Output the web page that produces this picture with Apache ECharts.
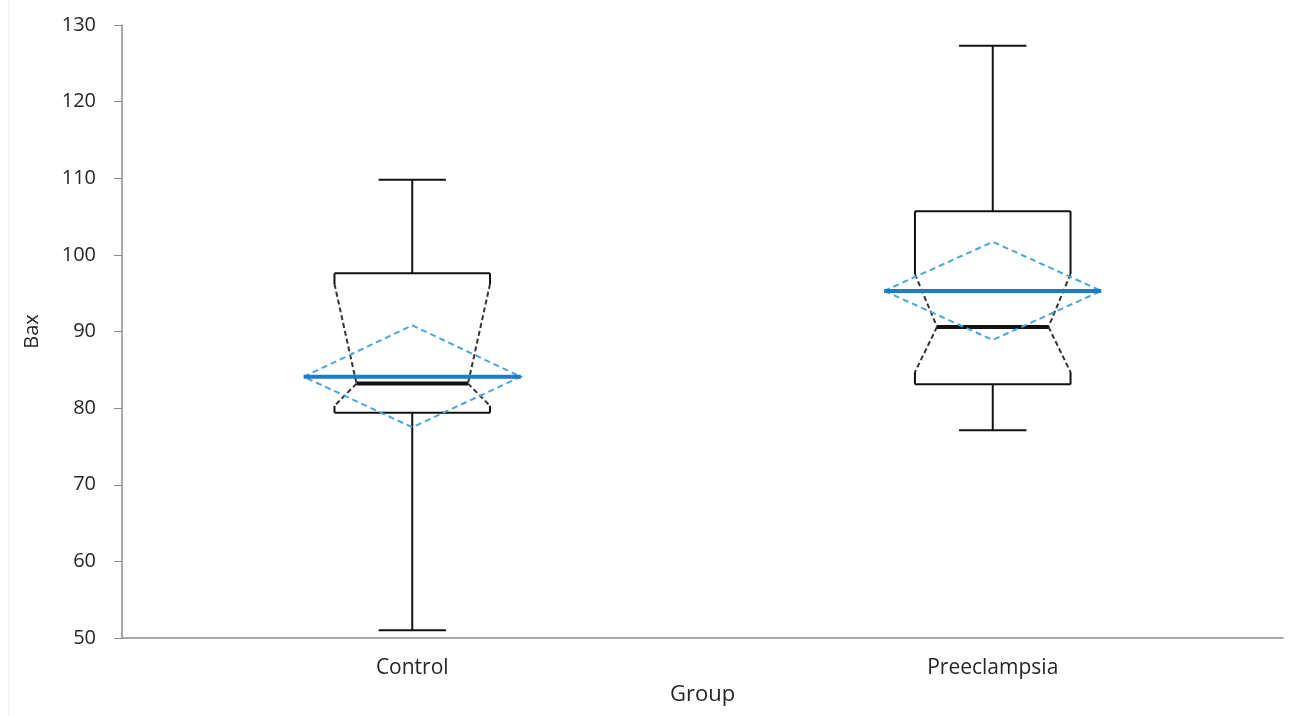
<!DOCTYPE html>
<html>
<head>
<meta charset="utf-8">
<script src="https://cdn.jsdelivr.net/npm/echarts@6/dist/echarts.min.js"></script>
<style>html,body{margin:0;padding:0;background:#fff;}#c{width:1291px;height:716px;}</style>
</head>
<body>
<div id="c"></div>
<script>
const categories = ['Control', 'Preeclampsia'];
const whiskerLow  = [51.0, 77.1];
const q1          = [79.4, 83.1];
const notchLow    = [80.3, 84.7];
const median      = [83.2, 90.6];
const notchHigh   = [96.2, 97.5];
const q3          = [97.6, 105.7];
const whiskerHigh = [109.8, 127.3];
const mean        = [84.1, 95.3];
const meanLow     = [77.5, 88.9];
const meanHigh    = [90.8, 101.7];
const yTicks = { min: 50, max: 130, interval: 10 };

const data = categories.map((c, i) => [i, whiskerLow[i], q1[i], notchLow[i], median[i], notchHigh[i], q3[i], whiskerHigh[i], mean[i], meanLow[i], meanHigh[i]]);

const black = '#111';
const font = '"Open Sans", sans-serif';

function renderItem(params, api) {
  const idx = api.value(0);
  const cx = api.coord([idx, 0])[0];
  const band = api.size([1, 0])[0];
  const y = v => api.coord([idx, v])[1];
  const bHalf = band * 0.134, mHalf = band * 0.096, dHalf = band * 0.187, cHalf = band * 0.058;
  const wl = y(api.value(1)), b1 = y(api.value(2)), nl = y(api.value(3)), md = y(api.value(4)),
        nh = y(api.value(5)), b3 = y(api.value(6)), wh = y(api.value(7)), mn = y(api.value(8)),
        ml = y(api.value(9)), mh = y(api.value(10));
  const solid = { stroke: black, lineWidth: 2, fill: null };
  const dashed = { stroke: '#333', lineWidth: 2, lineDash: [5, 3], fill: null };
  const line = (x1, y1, x2, y2, style) => ({ type: 'line', shape: { x1, y1, x2, y2 }, style });
  const xL = cx - bHalf, xR = cx + bHalf, xmL = cx - mHalf, xmR = cx + mHalf;
  const children = [
    line(cx, b3, cx, wh, solid),
    line(cx - cHalf, wh, cx + cHalf, wh, solid),
    line(cx, b1, cx, wl, solid),
    line(cx - cHalf, wl, cx + cHalf, wl, solid),
    line(xL, b3, xR, b3, solid),
    line(xL, b1, xR, b1, solid),
    line(xL, b3, xL, nh, solid),
    line(xR, b3, xR, nh, solid),
    line(xL, b1, xL, nl, solid),
    line(xR, b1, xR, nl, solid),
    line(xL, nh, xmL, md, dashed),
    line(xmL, md, xL, nl, dashed),
    line(xR, nh, xmR, md, dashed),
    line(xmR, md, xR, nl, dashed),
    line(xmL, md, xmR, md, { stroke: black, lineWidth: 4 }),
    { type: 'polygon', shape: { points: [[cx - dHalf, mn], [cx, mh], [cx + dHalf, mn], [cx, ml]] },
      style: { stroke: '#4ba4e0', lineWidth: 2, lineDash: [6, 4], fill: null } },
    line(cx - dHalf, mn, cx + dHalf, mn, { stroke: '#1a7dc6', lineWidth: 4 })
  ];
  return { type: 'group', children };
}

const chart = echarts.init(document.getElementById('c'));
chart.setOption({
  animation: false,
  backgroundColor: '#fff',
  grid: { left: 122, right: 8, top: 25, bottom: 78 },
  xAxis: {
    type: 'category', data: categories,
    name: 'Group', nameLocation: 'middle', nameGap: 44,
    nameTextStyle: { fontFamily: font, fontSize: 22, color: '#262626' },
    axisLine: { lineStyle: { color: '#8c8c8c', width: 1.5 } },
    axisTick: { length: 7, lineStyle: { color: '#8c8c8c' } },
    axisLabel: { fontFamily: font, fontSize: 21, color: '#262626', margin: 20 },
    splitLine: { show: false }
  },
  yAxis: {
    type: 'value', min: yTicks.min, max: yTicks.max, interval: yTicks.interval,
    name: 'Bax', nameLocation: 'middle', nameGap: 80, nameRotate: 90,
    nameTextStyle: { fontFamily: font, fontSize: 20, color: '#262626' },
    axisLine: { show: true, lineStyle: { color: '#8c8c8c', width: 1.5 } },
    axisTick: { show: true, length: 8, lineStyle: { color: '#8c8c8c' } },
    axisLabel: { fontFamily: font, fontSize: 20, color: '#262626', margin: 26 },
    splitLine: { show: false }
  },
  graphic: [{ type: 'line', shape: { x1: 9, y1: 0, x2: 9, y2: 716 }, style: { stroke: '#ececec', lineWidth: 1 } }],
  series: [{ type: 'custom', renderItem, data, encode: { x: 0, y: [1, 7] } }]
});
</script>
</body>
</html>
